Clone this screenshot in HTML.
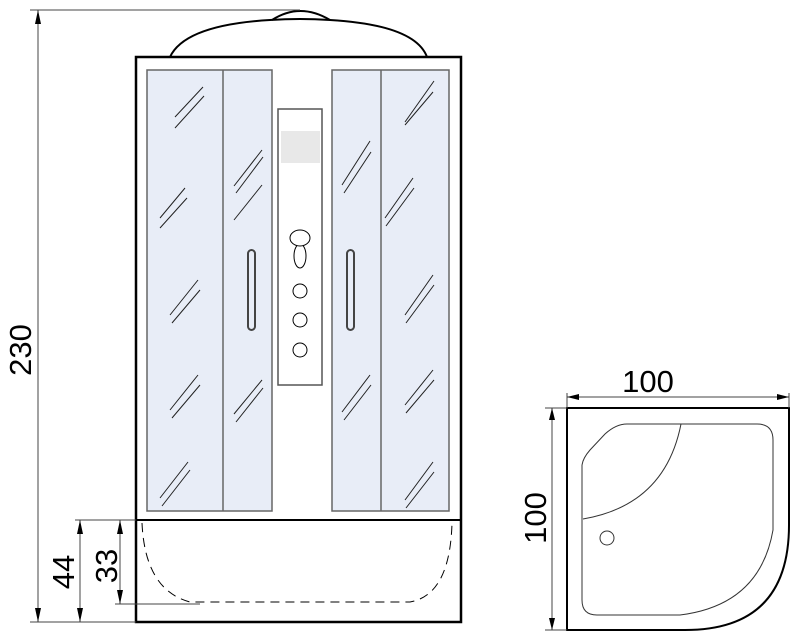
<!DOCTYPE html>
<html><head><style>body{margin:0;background:#fff}svg{display:block}</style></head><body>
<svg width="800" height="637" viewBox="0 0 800 637" xmlns="http://www.w3.org/2000/svg" font-family="Liberation Sans, sans-serif">
<g fill="none" stroke="#000">
<!-- dome -->
<path d="M170 57 Q185 25 270 20 Q300 18 330 20 Q415 25 427 57" stroke-width="2"/>
<path d="M272 20 Q300 2 330 20" stroke-width="2"/>
<!-- frame -->
<rect x="136" y="57" width="325" height="565" stroke-width="2.5"/>
<line x1="136" y1="520" x2="461" y2="520" stroke-width="2"/>
</g>
<!-- glass panels -->
<g fill="#e8edf7" stroke="#666" stroke-width="1.5">
<rect x="147" y="70" width="125" height="441"/>
<rect x="332" y="70" width="117" height="441"/>
</g>
<g stroke="#666" stroke-width="1.5">
<line x1="223" y1="70" x2="223" y2="511"/>
<line x1="381" y1="70" x2="381" y2="511"/>
</g>
<!-- glass marks -->
<g stroke="#222" stroke-width="1" id="m">
<path d="M175 117 L203 87 M175 128 L204 96"/>
<path d="M234 186 L262 150 M236 193 L263 157"/>
<path d="M160 218 L185 188 M160 228 L187 198"/>
<path d="M170 315 L198 280 M172 323 L200 290"/>
<path d="M234 414 L262 380 M236 422 L263 388"/>
<path d="M170 410 L198 375 M172 418 L200 385"/>
<path d="M160 498 L188 462 M162 506 L190 470"/>
<path d="M234 220 L262 185"/>
<path d="M342 185 L370 141 M344 193 L371 152"/>
<path d="M405 122 L434 81 M405 125 L433 92"/>
<path d="M385 218 L413 178 M386 226 L414 188"/>
<path d="M405 315 L433 275 M406 323 L434 285"/>
<path d="M342 412 L370 375 M344 420 L371 385"/>
<path d="M405 405 L433 370 M406 413 L434 380"/>
<path d="M405 500 L433 462 M406 508 L434 472"/>
</g>
<!-- handles -->
<g fill="none" stroke="#444" stroke-width="2">
<rect x="248" y="250" width="7" height="80" rx="3.5"/>
<rect x="347" y="250" width="7" height="80" rx="3.5"/>
</g>
<!-- center panel -->
<rect x="278" y="109" width="44" height="276" fill="#fff" stroke="#555" stroke-width="1.5"/>
<rect x="281" y="131" width="39" height="32" fill="#e8e8e8"/>
<g fill="#fff" stroke="#000" stroke-width="1">
<ellipse cx="300" cy="256" rx="6" ry="12"/>
<ellipse cx="300" cy="238" rx="10" ry="8"/>
<ellipse cx="300" cy="291" rx="7" ry="7"/>
<ellipse cx="300" cy="320" rx="7" ry="7"/>
<ellipse cx="300" cy="350" rx="7" ry="7"/>
</g>
<!-- tray dashed -->
<path d="M142 523 Q145 590 190 602 L410 602 Q450 595 452 523" fill="none" stroke="#000" stroke-width="1" stroke-dasharray="9 6"/>
<!-- dims left -->
<g stroke="#444" stroke-width="1" fill="none">
<line x1="30" y1="10" x2="300" y2="10"/>
<line x1="38" y1="10" x2="38" y2="622"/>
<line x1="30" y1="622" x2="136" y2="622"/>
<line x1="75" y1="520" x2="136" y2="520"/>
<line x1="80" y1="520" x2="80" y2="622"/>
<line x1="115" y1="604" x2="200" y2="604"/>
<line x1="120" y1="520" x2="120" y2="604"/>
</g>
<g fill="#000">
<path d="M38 10 l-3 14 h6z M38 622 l-3 -14 h6z M80 520 l-3 14 h6z M80 622 l-3 -14 h6z M120 520 l-3 14 h6z M120 604 l-3 -14 h6z"/>
</g>
<g font-size="31" fill="#000" text-anchor="middle">
<text transform="translate(31,350) rotate(-90)">230</text>
<text transform="translate(74,572) rotate(-90)">44</text>
<text transform="translate(117,566) rotate(-90)">33</text>
<text x="648" y="392">100</text>
<text transform="translate(546,518) rotate(-90)">100</text>
</g>
<!-- plan -->
<g fill="none" stroke="#000">
<path d="M567 408 L789 408 L789 525 Q789 630 685 630 L567 630 Z" stroke-width="2"/>
<path d="M582 465 L582 600 Q582 615 597 615 L680 615 Q760 605 773 530 L773 440 Q773 424 757 424 L627 424 Q616 424 605 434 L590 450 Q583 458 582 465" stroke="#333" stroke-width="1"/>
<path d="M681 424 Q665 505 583 519" stroke="#333" stroke-width="1"/>
<circle cx="607" cy="538" r="7" stroke="#333" stroke-width="1"/>
</g>
<g stroke="#444" stroke-width="1">
<line x1="567" y1="397" x2="789" y2="397"/>
<line x1="567" y1="393" x2="567" y2="408"/>
<line x1="789" y1="393" x2="789" y2="408"/>
<line x1="552" y1="408" x2="552" y2="630"/>
<line x1="545" y1="408" x2="567" y2="408"/>
<line x1="545" y1="630" x2="567" y2="630"/>
</g>
<path d="M567 397 l12 -3 v6z M789 397 l-12 -3 v6z M552 408 l-3 12 h6z M552 630 l-3 -12 h6z" fill="#000"/>
</svg>
</body></html>
